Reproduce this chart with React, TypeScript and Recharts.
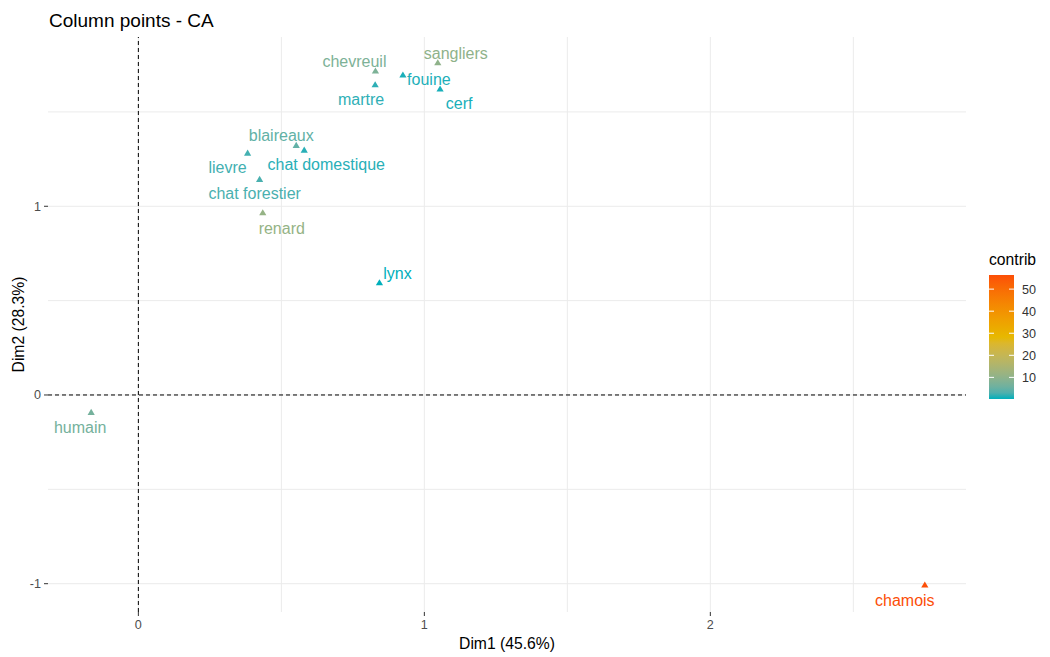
import React from 'react';
import { ScatterChart, Scatter, XAxis, YAxis, CartesianGrid, ReferenceLine } from 'recharts';

// CA column coordinates (Dim1, Dim2) and their contribution to the map
const animals = [
  'chevreuil', 'sangliers', 'fouine', 'martre', 'cerf', 'blaireaux', 'chat domestique',
  'lievre', 'chat forestier', 'renard', 'lynx', 'humain', 'chamois',
];
const dim1 = [0.829, 1.047, 0.925, 0.828, 1.055, 0.552, 0.58, 0.382, 0.424, 0.435, 0.843, -0.165, 2.75];
const dim2 = [1.717, 1.761, 1.696, 1.644, 1.622, 1.323, 1.298, 1.282, 1.143, 0.966, 0.595, -0.092, -1.007];
const contrib = [7.5, 10, 0.6, 1.2, 0.5, 4.5, 1.0, 2.2, 2.6, 11, 0.2, 6.5, 56.4];

const xTicks = [0, 1, 2];
const yTicks = [-1, 0, 1];
const gridX = [0, 0.5, 1, 1.5, 2, 2.5];
const gridY = [-1, -0.5, 0, 0.5, 1, 1.5];
const legendTicks = [10, 20, 30, 40, 50];

// repel-style label placement, pixel offset from the point to the text baseline centre
const labelOffsets: [number, number][] = [
  [-21, -4], [18, -4], [26, 10], [-14, 20], [19, 20], [-15, -4], [22, 20],
  [-20, 20], [-5, 20], [19, 21], [18, -4], [-11, 21], [-20, 21],
];

const FONT = '"Liberation Sans", Arial, sans-serif';
const GRAD_COLS = ['#00AFBB', '#E7B800', '#FC4E07'];
const cMin = Math.min(...contrib);
const cMax = Math.max(...contrib);

// colour interpolation in CIE Lab, like ggplot's gradientn
const toLinear = (c: number) => {
  const v = c / 255;
  return v <= 0.04045 ? v / 12.92 : Math.pow((v + 0.055) / 1.055, 2.4);
};
const fromLinear = (c: number) => {
  const v = c <= 0.0031308 ? 12.92 * c : 1.055 * Math.pow(c, 1 / 2.4) - 0.055;
  return Math.round(Math.max(0, Math.min(1, v)) * 255);
};
const hexToLab = (hex: string) => {
  const [r, g, b] = [1, 3, 5].map((i) => toLinear(parseInt(hex.slice(i, i + 2), 16)));
  const x = (0.4124 * r + 0.3576 * g + 0.1805 * b) / 0.95047;
  const y = 0.2126 * r + 0.7152 * g + 0.0722 * b;
  const z = (0.0193 * r + 0.1192 * g + 0.9505 * b) / 1.08883;
  const f = (t: number) => (t > 216 / 24389 ? Math.cbrt(t) : ((24389 / 27) * t + 16) / 116);
  const fx = f(x), fy = f(y), fz = f(z);
  return [116 * fy - 16, 500 * (fx - fy), 200 * (fy - fz)];
};
const labToHex = ([L, a, b]: number[]) => {
  const fy = (L + 16) / 116;
  const fx = fy + a / 500;
  const fz = fy - b / 200;
  const inv = (t: number) => (t ** 3 > 216 / 24389 ? t ** 3 : (116 * t - 16) / (24389 / 27));
  const x = inv(fx) * 0.95047, y = inv(fy), z = inv(fz) * 1.08883;
  const r = 3.2406 * x - 1.5372 * y - 0.4986 * z;
  const g = -0.9689 * x + 1.8758 * y + 0.0415 * z;
  const bl = 0.0557 * x - 0.204 * y + 1.057 * z;
  return '#' + [r, g, bl].map(fromLinear).map((v) => v.toString(16).padStart(2, '0')).join('');
};
const labCols = GRAD_COLS.map(hexToLab);

const contribColor = (v: number) => {
  const t = Math.max(0, Math.min(1, (v - cMin) / (cMax - cMin)));
  const seg = t < 0.5 ? 0 : 1;
  const u = seg === 0 ? t * 2 : (t - 0.5) * 2;
  const a = labCols[seg], b = labCols[seg + 1];
  return labToHex(a.map((c, i) => c + (b[i] - c) * u));
};

const data = animals.map((name, i) => ({
  name,
  dim1: dim1[i],
  dim2: dim2[i],
  contrib: contrib[i],
  dx: labelOffsets[i][0],
  dy: labelOffsets[i][1],
}));

const TrianglePoint = (props: any) => {
  const { cx, cy, payload } = props;
  const col = contribColor(payload.contrib);
  return (
    <g>
      <polygon points={`${cx},${cy - 3.5} ${cx + 3.6},${cy + 2.6} ${cx - 3.6},${cy + 2.6}`} fill={col} />
      <text x={cx + payload.dx} y={cy + payload.dy} textAnchor="middle" fill={col} fontSize={16} fontFamily={FONT}>
        {payload.name}
      </text>
    </g>
  );
};

// colour bar legend
const BAR_X = 989;
const BAR_W = 25;
const BAR_TOP = 275;
const BAR_BOTTOM = 399;
const barY = (v: number) => BAR_BOTTOM - ((v - cMin) / (cMax - cMin)) * (BAR_BOTTOM - BAR_TOP);
const gradStops = Array.from({ length: 21 }, (_, i) => i / 20);

const App = () => {
  return (
    <div style={{ position: 'absolute', left: 0, top: 0, width: 1050, height: 657, background: '#fff' }}>
      <ScatterChart width={1050} height={657} margin={{ top: 37, right: 84, bottom: 0, left: 0 }}>
        <CartesianGrid stroke="#EBEBEB" strokeWidth={1} horizontalValues={gridY} verticalValues={gridX} />
        <XAxis
          type="number"
          dataKey="dim1"
          domain={[-0.316, 2.894]}
          allowDataOverflow
          ticks={xTicks}
          height={45}
          axisLine={false}
          tickSize={4}
          tickMargin={4}
          tickLine={{ stroke: '#333333' }}
          tick={{ fontSize: 12.6, fill: '#4D4D4D', fontFamily: FONT }}
        />
        <YAxis
          type="number"
          dataKey="dim2"
          domain={[-1.15, 1.897]}
          allowDataOverflow
          ticks={yTicks}
          width={48}
          axisLine={false}
          tickSize={4}
          tickMargin={3}
          tickLine={{ stroke: '#333333' }}
          tick={{ fontSize: 12.6, fill: '#4D4D4D', fontFamily: FONT }}
        />
        <ReferenceLine x={0} stroke="#000" strokeDasharray="4 3" strokeWidth={1} />
        <ReferenceLine y={0} stroke="#000" strokeDasharray="4 3" strokeWidth={1} />
        <Scatter data={data} shape={<TrianglePoint />} isAnimationActive={false} />
      </ScatterChart>

      <svg width={1050} height={657} style={{ position: 'absolute', left: 0, top: 0, pointerEvents: 'none' }}>
        <defs>
          <linearGradient id="contribGrad" x1="0" y1="1" x2="0" y2="0">
            {gradStops.map((s) => (
              <stop key={s} offset={s} stopColor={contribColor(cMin + s * (cMax - cMin))} />
            ))}
          </linearGradient>
        </defs>
        <text x={49} y={26.5} fontSize={19} fontFamily={FONT} fill="#000">Column points - CA</text>
        <text x={507} y={649} fontSize={15.7} fontFamily={FONT} fill="#000" textAnchor="middle">Dim1 (45.6%)</text>
        <text
          x={0}
          y={0}
          transform="translate(23.5,324.5) rotate(-90)"
          fontSize={15.7}
          fontFamily={FONT}
          fill="#000"
          textAnchor="middle"
        >
          Dim2 (28.3%)
        </text>

        <text x={BAR_X} y={265} fontSize={15.7} fontFamily={FONT} fill="#000">contrib</text>
        <rect x={BAR_X} y={BAR_TOP} width={BAR_W} height={BAR_BOTTOM - BAR_TOP} fill="url(#contribGrad)" />
        {legendTicks.map((v) => (
          <g key={v}>
            <line x1={BAR_X} x2={BAR_X + 5} y1={barY(v)} y2={barY(v)} stroke="#fff" strokeWidth={1} />
            <line x1={BAR_X + BAR_W - 5} x2={BAR_X + BAR_W} y1={barY(v)} y2={barY(v)} stroke="#fff" strokeWidth={1} />
            <text x={1022} y={barY(v)} dy="0.35em" fontSize={12.6} fontFamily={FONT} fill="#333333">
              {v}
            </text>
          </g>
        ))}
      </svg>
    </div>
  );
};

export default App;
